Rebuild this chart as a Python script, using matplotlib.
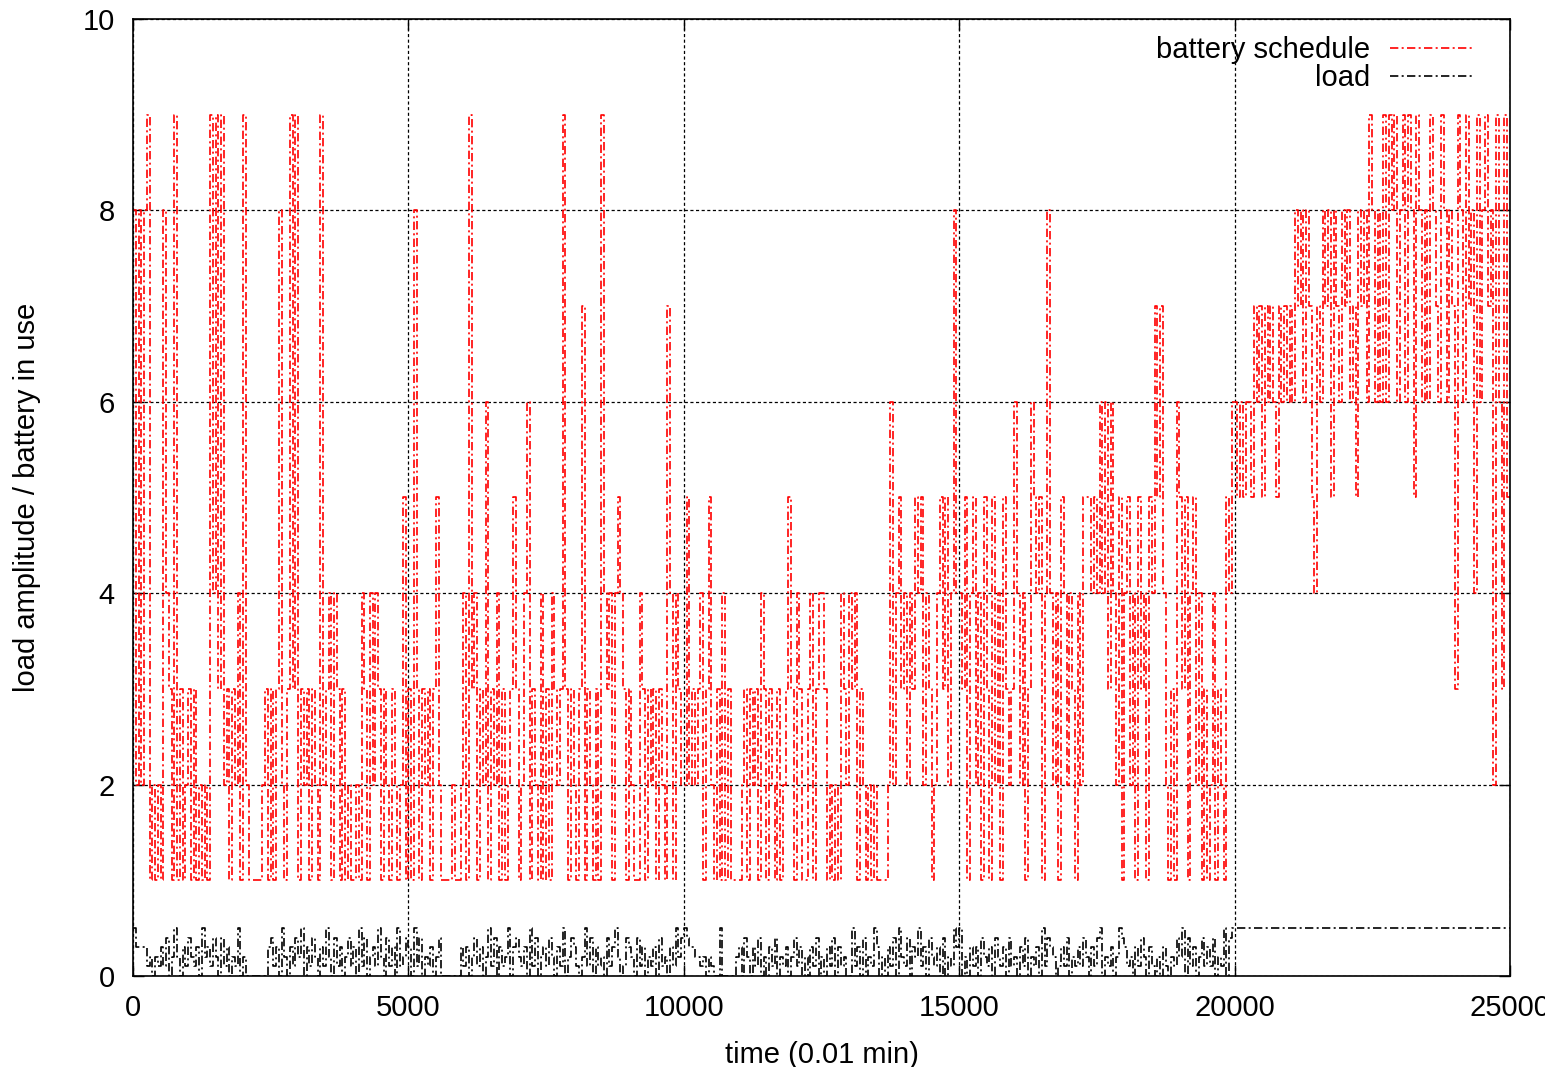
import numpy as np
import matplotlib
matplotlib.use("Agg")
import matplotlib.pyplot as plt

plt.rcParams['font.family'] = ['Liberation Sans', 'DejaVu Sans']

# sample spacing of the schedule (in 0.01 min)
step = 50

# battery in use, one digit per sample, one string per 2500 time units
battery_blocks = [
    "8282891212" "1843191312" "3131212194" "9392313241" "9211111231",
    "3138213939" "1323132192" "3414313121" "1214314243" "1321321251",
    "3183132313" "5211112112" "4193413261" "3241312353" "1246132141",
    "3143239313" "2137132131" "9434145431" "3211431323" "1321741432",
    "2523234135" "2131413111" "1231323143" "1321312353" "1431134134",
    "4312121432" "4341321212" "1111262453" "4243545243" "1245352484",
    "4351452415" "3152415323" "6424136545" "1484241542" "4314255545",
    "4646364251" "4524153415" "4757421316" "5351452413" "1241321546",
    "6565665767" "5767657676" "7687868754" "7687858768" "7867587869",
    "8686969896" "8969859868" "6987698687" "3986978496" "8978296395",
]

# load amplitude in tenths, same sampling
load_blocks = [
    "5333312021" "3140252031" "4213052314" "2041302150" "2000000003",
    "4130520314" "2503142031" "5204130241" "3051402315" "2041305124",
    "3051402130" "2400000003" "1302413025" "1403125034" "2130514023",
    "1420315024" "3102514031" "2041352014" "3204130213" "0412031524",
    "5433221202" "1005000002" "3042031402" "0314021302" "4130203140",
    "2031403120" "0513040215" "3020314052" "1403251304" "2130402153",
    "5020313042" "1304213041" "2031402130" "5143201314" "0213142031",
    "4502130254" "3120314203" "1020310214" "2504130241" "3140215045",
    "5555555555" "5555555555" "5555555555" "5555555555" "5555555555",
    "5555555555" "5555555555" "5555555555" "5555555555" "5555555555",
]

battery = np.array([int(c) for c in "".join(battery_blocks)], dtype=float)
load = np.array([int(c) for c in "".join(load_blocks)], dtype=float) / 10.0

t = np.arange(len(battery) + 1) * step
battery = np.append(battery, battery[-1])
load = np.append(load, load[-1])

fig = plt.figure(figsize=(15.45, 10.67), dpi=100)
ax = fig.add_axes([0.0861, 0.0853, 0.8912, 0.8969])

dash = (5, 2, 1.2, 2)
l1, = ax.plot(t, battery, color='red', lw=1.2, drawstyle='steps-post',
              label='battery schedule')
l1.set_dashes(dash)
l2, = ax.plot(t, load, color='black', lw=1.2, drawstyle='steps-post',
              label='load')
l2.set_dashes(dash)

ax.set_xlim(0, 25000)
ax.set_ylim(0, 10)
ax.set_xticks(np.arange(0, 25001, 5000))
ax.set_yticks(np.arange(0, 11, 2))

ax.grid(True, color='black', lw=0.9, linestyle=(0, (2.5, 2)))
ax.tick_params(direction='in', top=True, right=True, length=8, width=1,
               labelsize=21, pad=13)
for s in ax.spines.values():
    s.set_linewidth(1.2)

ax.set_xlabel('time (0.01 min)', fontsize=21, labelpad=14)
ax.set_ylabel('load amplitude / battery in use', fontsize=21, labelpad=30)

leg = ax.legend(loc='upper right', bbox_to_anchor=(0.983, 0.994),
                frameon=False, markerfirst=False, fontsize=21,
                handlelength=2.9, handletextpad=0.7, labelspacing=0.0,
                borderaxespad=0.0)

fig.savefig('out.png', dpi=100)
